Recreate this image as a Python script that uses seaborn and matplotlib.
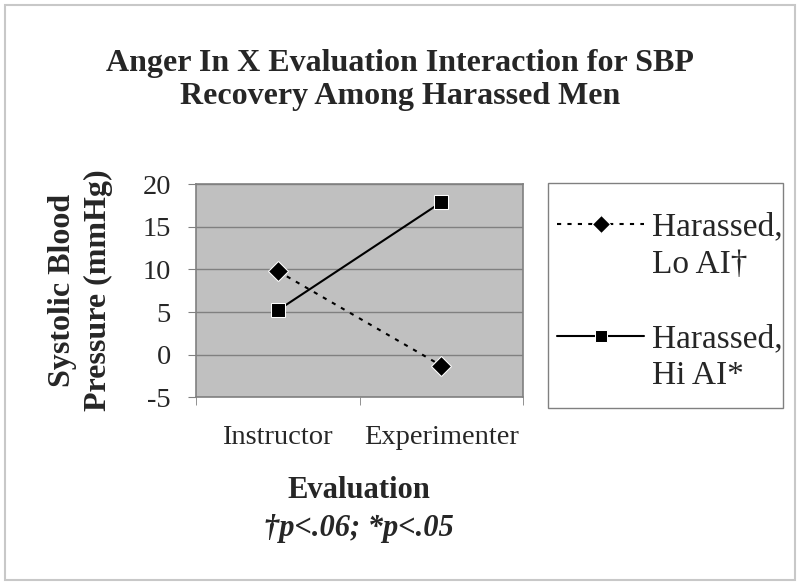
import pandas as pd
import matplotlib.pyplot as plt
import seaborn as sns
from matplotlib.lines import Line2D
from matplotlib.patches import Rectangle

# Datos
evaluacion = ["Instructor", "Experimenter"]
lo_ai = [9.8, -1.3]
hi_ai = [5.2, 17.9]
grupos = ["Harassed, Lo AI†", "Harassed, Hi AI*"]
yticks = [-5, 0, 5, 10, 15, 20]

df = pd.DataFrame({
    "Evaluation": evaluacion * 2,
    "SBP": lo_ai + hi_ai,
    "grupo": [grupos[0]] * 2 + [grupos[1]] * 2,
})

sns.set_style("white")
plt.rcParams["font.family"] = ["Liberation Serif", "DejaVu Serif"]

fig = plt.figure(figsize=(8, 5.85), dpi=100)
ax = fig.add_axes([0.245, 0.321, 0.409, 0.364])
ax.set_facecolor("#c0c0c0")

sns.lineplot(data=df, x="Evaluation", y="SBP", hue="grupo", style="grupo",
             palette=["black", "black"],
             dashes={grupos[0]: (2, 3), grupos[1]: ""},
             markers={grupos[0]: "D", grupos[1]: "s"},
             markersize=10, linewidth=1.5, legend=False, ax=ax)
lines = ax.get_lines()

ax.set_xlim(-0.5, 1.5)
ax.set_ylim(-5, 20)
ax.set_yticks(yticks)
ax.set_yticklabels([str(v) for v in yticks])
for v in yticks:
    ax.axhline(v, color="#808080", lw=1, zorder=0)
ax.set_xticks([0, 1])
ax.set_xticks([-0.5, 0.5, 1.5], minor=True)
ax.tick_params(axis="x", which="major", length=0, pad=20, labelsize=20.5)
ax.tick_params(axis="x", which="minor", length=6, color="#808080", direction="out")
ax.tick_params(axis="y", length=6, color="#808080", direction="out", pad=12, labelsize=20.5)
ax.xaxis.set_ticks_position("bottom")
ax.yaxis.set_ticks_position("left")
for s in ax.spines.values():
    s.set_color("#808080")
    s.set_linewidth(1.2)
ax.set_xlabel("")
ax.set_ylabel("")

# Titulo y etiquetas
fig.text(0.5, 0.863, "Anger In X Evaluation Interaction for SBP\nRecovery Among Harassed Men",
         ha="center", va="center", fontsize=23, fontweight="bold", linespacing=1.15)
fig.text(0.101, 0.504, "Systolic Blood\nPressure (mmHg)", rotation=90,
         ha="center", va="center", fontsize=23, fontweight="bold", linespacing=1.3)
fig.text(0.449, 0.162, "Evaluation", ha="center", va="center",
         fontsize=22, fontweight="bold")
fig.text(0.449, 0.097, "†p<.06; *p<.05", ha="center", va="center",
         fontsize=22, fontweight="bold", style="italic")

# Leyenda
fig.add_artist(Rectangle((548 / 800, 1 - 408 / 585), 235 / 800, 225 / 585,
                         transform=fig.transFigure, fill=False,
                         edgecolor="#808080", lw=1))
vacio = Line2D([], [], alpha=0)
handles = [lines[0], vacio, vacio, lines[1], vacio]
labels = ["Harassed,", "Lo AI†", "", "Harassed,", "Hi AI*"]
fig.legend(handles, labels, loc="upper left", bbox_to_anchor=(0.68, 0.66),
           frameon=False, fontsize=24, handlelength=2.6, handletextpad=0.25,
           labelspacing=0.2, borderaxespad=0, markerscale=0.9)

fig.add_artist(Rectangle((5 / 800, 5 / 585), 790 / 800, 575 / 585,
                         transform=fig.transFigure, fill=False,
                         edgecolor="#c8c8c8", lw=1.5))

plt.savefig("out.png", dpi=100)
